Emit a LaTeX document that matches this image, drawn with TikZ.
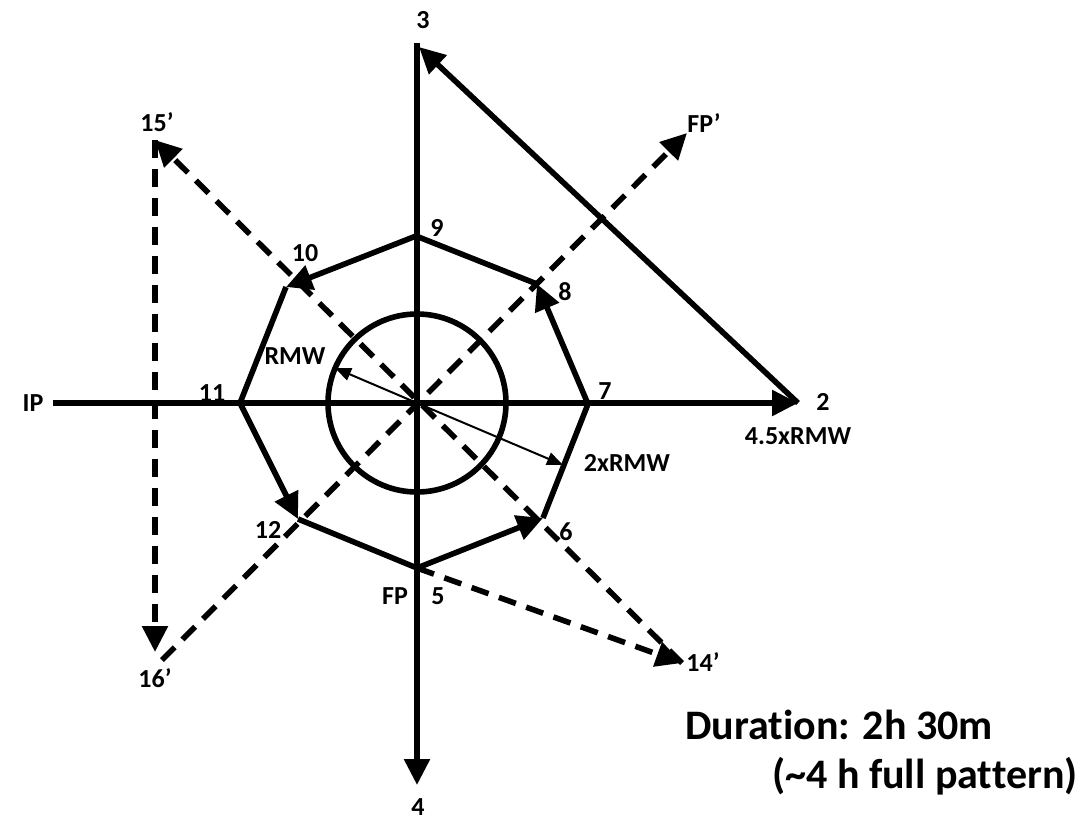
\documentclass[tikz,border=0pt]{standalone}
\usepackage{fontspec}
\setmainfont{Carlito}[Ligatures=NoCommon]
\usetikzlibrary{arrows.meta}
\begin{document}
\begin{tikzpicture}[x=1pt,y=-1pt,
  thk/.style={line width=5.6pt},
  dsh/.style={line width=5.6pt,dash pattern=on 18pt off 11pt},
  bigtip/.style={-{Triangle[length=26pt,width=25pt]}},
  thintip/.style={line width=2pt,-{Triangle[length=16pt,width=13pt]}},
  lbl/.style={font=\bfseries\fontsize{26}{26}\selectfont,inner sep=0pt},
  big/.style={font=\bfseries\fontsize{42}{44}\selectfont,inner sep=0pt,anchor=west}]
\useasboundingbox (0,0) rectangle (1087,823);
% points
\coordinate (O) at (417,403);
\coordinate (p3) at (417,43);
\coordinate (p3t) at (419,47);
\coordinate (p4) at (417,785);
\coordinate (ip) at (53,403);
\coordinate (p2) at (798,403);
\coordinate (v9) at (416,236);
\coordinate (v8) at (537,284);
\coordinate (v7) at (588,404);
\coordinate (v6) at (543,518);
\coordinate (v5) at (417,568);
\coordinate (v12) at (298,519);
\coordinate (v11) at (240,403);
\coordinate (v10) at (286,287);
\coordinate (q14) at (682,663);
\coordinate (q15) at (155,140);
\coordinate (q16) at (155,652);
\coordinate (q16s) at (162,660);
\coordinate (fpp) at (687,133);
\coordinate (rmw) at (335,368);
\coordinate (rmw2) at (563,465);
% axes
\draw[thk] (p3) -- (O);
\draw[thk,bigtip] (O) -- (p4);
\draw[thk,bigtip] (ip) -- (p2);
\draw[thk,bigtip] (p2) -- (p3t);
% circle
\draw[thk] (O) circle[radius=89];
% octagon
\draw[thk,bigtip] (v9) -- (v10);
\draw[thk,bigtip] (v10) -- (v11) -- (v12);
\draw[thk,bigtip] (v12) -- (v5) -- (v6);
\draw[thk,bigtip] (v6) -- (v7) -- (v8);
\draw[thk] (v8) -- (v9);
% dashed route
\draw[dsh,bigtip] (v5) -- (q14);
\draw[dsh,bigtip] (q14) -- (q15);
\draw[dsh,bigtip] (q15) -- (q16);
\draw[dsh,bigtip] (q16s) -- (fpp);
% radius arrows
\draw[thintip] (O) -- (rmw);
\draw[thintip] (O) -- (rmw2);
% labels
\node[lbl] (l3) at (423,20) {3};
\node[lbl] (l4) at (418,807) {4};
\node[lbl] (lip) at (33,403) {IP};
\node[lbl] (l2) at (823,402) {2};
\node[lbl] (l45) at (798,436) {4.5xRMW};
\node[lbl] (l9) at (437,228) {9};
\node[lbl] (l10) at (305,253) {10};
\node[lbl] (l8) at (565,292) {8};
\node[lbl] (l11) at (212,393) {11};
\node[lbl] (l7) at (605,391) {7};
\node[lbl] (l12) at (268,530) {12};
\node[lbl] (l6) at (566,532) {6};
\node[lbl] (lfp) at (395,596) {FP};
\node[lbl] (l5) at (438,596) {5};
\node[lbl] (l14) at (703,662) {14’};
\node[lbl] (l15) at (157,122) {15’};
\node[lbl] (l16) at (155,678) {16’};
\node[lbl] (lfpp) at (704,123) {FP’};
\node[lbl] (lrmw) at (295,356) {RMW};
\node[lbl] (l2rmw) at (627,463) {2xRMW};
\node[big] (dur) at (685,725) {Durat\kern0pt ion: 2h 30m};
\node[big] (full) at (772,776) {(\char`\~4 h full pattern)};
\end{tikzpicture}
\end{document}
